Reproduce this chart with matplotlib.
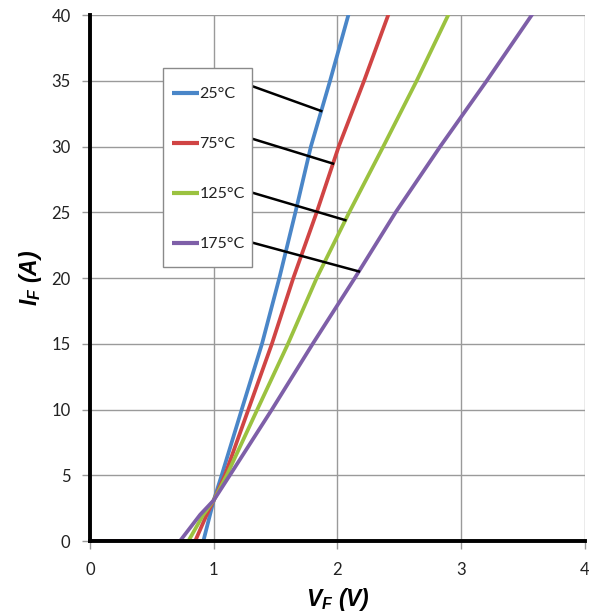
import numpy as np
import matplotlib
matplotlib.use("Agg")
import matplotlib.pyplot as plt
from matplotlib.patches import Rectangle

# forward current levels (A) and the forward voltage of each curve at those levels (V)
current = [0, 0, 2, 3.1, 5, 10, 15, 20, 25, 30, 35, 40]
vf_25 = [0, 0.916, 0.97, 1.0, 1.064, 1.226, 1.39, 1.53, 1.66, 1.785, 1.94, 2.088]
vf_75 = [0, 0.85, 0.943, 1.0, 1.09, 1.28, 1.47, 1.643, 1.832, 2.01, 2.215, 2.41]
vf_125 = [0, 0.795, 0.916, 1.0, 1.105, 1.352, 1.60, 1.832, 2.095, 2.37, 2.64, 2.895]
vf_175 = [0, 0.727, 0.89, 1.0, 1.13, 1.47, 1.80, 2.14, 2.47, 2.83, 3.206, 3.57]

labels = ["25°C", "75°C", "125°C", "175°C"]
colors = ["#4a86c8", "#d04444", "#9bc240", "#7e5fa8"]

# leader lines: current where they leave the legend and where they touch the curve
leader_from = [34.6, 30.6, 26.5, 22.7]
leader_to = [32.7, 28.7, 24.4, 20.5]

plt.rcParams['font.family'] = ['Lato', 'DejaVu Sans']
plt.rcParams['mathtext.fontset'] = 'custom'
plt.rcParams['mathtext.it'] = 'Liberation Sans:italic:bold'
plt.rcParams['mathtext.rm'] = 'Liberation Sans:bold'

fig = plt.figure(figsize=(5.89, 6.15), dpi=100)
ax = fig.add_axes([0.1528, 0.1203, 0.8404, 0.8553])

series = [vf_25, vf_75, vf_125, vf_175]
for vf, lab, col in zip(series, labels, colors):
    ax.plot(vf, current, color=col, lw=2.7, label=lab, zorder=3)

ax.set_xlim(0, 4)
ax.set_ylim(0, 40)
ax.set_xticks([0, 1, 2, 3, 4])
ax.set_yticks(range(0, 41, 5))
ax.grid(True, color="#9a9a9a", lw=1)
ax.set_axisbelow(True)

for s in ["top", "right"]:
    ax.spines[s].set_visible(False)
for s in ["left", "bottom"]:
    ax.spines[s].set_linewidth(2.8)
    ax.spines[s].set_color("black")
    ax.spines[s].set_zorder(5)

ax.tick_params(axis="both", length=6, width=1, color="#9a9a9a", labelsize=12,
               labelcolor="#222222")
ax.tick_params(axis="y", pad=8)
ax.tick_params(axis="x", pad=9)

lab_font = dict(family="Liberation Sans", fontsize=16.5, fontweight="bold", style="italic")
ax.set_xlabel(r"$V_F$ (V)", labelpad=6, **lab_font)
ax.set_ylabel(r"$I_F$ (A)", labelpad=5, **lab_font)

# legend box drawn by hand (axes fraction) so the rows can be spaced like the original
box_l, box_r, box_t, box_b = 0.147, 0.327, 0.90, 0.52
ax.add_patch(Rectangle((box_l, box_b), box_r - box_l, box_t - box_b,
                       transform=ax.transAxes, facecolor="white",
                       edgecolor="#8a8a8a", lw=1, zorder=6))
step = (box_t - box_b) / len(labels)
for i, (lab, col) in enumerate(zip(labels, colors)):
    yy = box_t - (i + 0.5) * step
    ax.plot([0.166, 0.220], [yy, yy], color=col, lw=3, transform=ax.transAxes,
            zorder=7, solid_capstyle="butt")
    ax.text(0.221, yy, lab, transform=ax.transAxes, fontsize=11.5,
            va="center_baseline", ha="left", color="#222222", zorder=7)

# leader lines from the legend edge to each curve
x0 = ax.transData.inverted().transform(ax.transAxes.transform((box_r, 0)))[0]
for vf, y0, y1 in zip(series, leader_from, leader_to):
    x1 = np.interp(y1, current[1:], vf[1:])
    ax.plot([x0, x1], [y0, y1], color="black", lw=1.8, zorder=4)

fig.savefig("out.png", dpi=100)
